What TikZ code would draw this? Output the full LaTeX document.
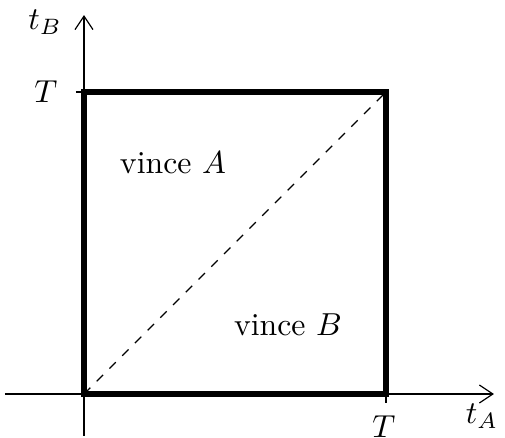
\documentclass[tikz,border=0pt]{standalone}
\usetikzlibrary{arrows.meta}
\begin{document}
\begin{tikzpicture}[x=0.3333pt,y=-0.3333pt,
  axis/.style={line width=0.4pt,-{Straight Barb[length=4.5pt,width=6pt]}},
  box/.style={line width=1.8pt},
  lbl/.style={inner sep=0pt,scale=1.06}]
\useasboundingbox (0,0) rectangle (505,438);
\coordinate (O) at (84,394);
\coordinate (xs) at (5,394);
\coordinate (xe) at (494,394);
\coordinate (ys) at (84,436);
\coordinate (ye) at (84,15);
\coordinate (TT) at (386,92);
\coordinate (Ty) at (84,92);
\coordinate (Tx) at (386,394);
\coordinate (tyl) at (76,92);
\coordinate (txl) at (386,403);
\draw[axis] (xs) -- (xe);
\draw[axis] (ys) -- (ye);
\draw[line width=0.4pt] (tyl) -- (Ty);
\draw[line width=0.4pt] (Tx) -- (txl);
\draw[dashed,line width=0.4pt] (O) -- (TT);
\draw[box] (O) rectangle (TT);
\node[lbl] (tB) at (45,22) {$t_B$};
\node[lbl] (TyL) at (46,92) {$T$};
\node[lbl] (TxL) at (384,427) {$T$};
\node[lbl] (tA) at (482,416) {$t_A$};
\node[lbl] (vA) at (173,163) {vince $A$};
\node[lbl] (vB) at (288,325) {vince $B$};
\end{tikzpicture}
\end{document}
